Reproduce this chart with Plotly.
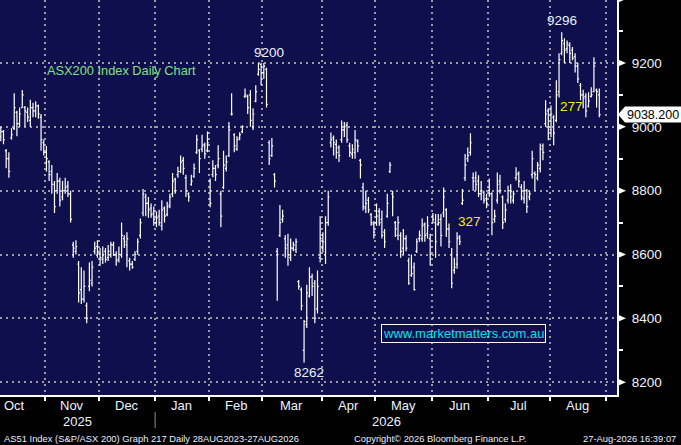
import numpy as np
import pandas as pd
import plotly.graph_objects as go

# ---------------- data ----------------
asx_holidays = ["2025-12-25", "2025-12-26", "2026-01-01", "2026-01-26",
                "2026-04-03", "2026-04-06", "2026-06-08"]
calendar_start = "2025-10-01"
calendar_end = "2026-08-31"
first_bar_date = "2025-10-09"
last_bar_date = "2026-08-27"

opens = [
    8970, 8985, 8925, 8900, 8965, 8995, 9045, 9010, 9060, 9060, 9045, 9020, 9060, 9050, 9065, 9030, 8950,
    8920, 8890, 8860, 8820, 8800, 8830, 8780, 8800, 8815, 8790, 8630, 8610, 8570, 8490, 8460, 8440, 8500, 8510, 8610, 8625,
    8600, 8585, 8610, 8590, 8600, 8630, 8600, 8585, 8600, 8650, 8630, 8580, 8570, 8585, 8610, 8660, 8730, 8780, 8760, 8745, 8730,
    8700, 8720, 8690, 8745, 8725, 8755, 8790, 8835, 8850, 8860, 8895, 8840, 8790, 8820, 8845, 8920, 8925, 8930, 8945, 8925,
    8830, 8850, 8870, 8880, 8790, 8810, 8870, 8910, 9040, 8975, 8930, 8965, 8985, 9095, 9095, 9100, 9000, 9080, 9165, 9195,
    9170, 9180, 8950, 8910, 8850, 8610, 8660, 8710, 8650, 8630, 8590, 8620, 8615, 8515, 8490, 8300, 8380, 8470, 8530, 8510, 8430, 8590,
    8620, 8600, 8700, 8950, 8965, 8945, 8935, 8960, 8990, 9005, 8940, 8915, 8920, 8955, 8895, 8810, 8745, 8770, 8725, 8695,
    8700, 8735, 8710, 8670, 8720, 8860, 8790, 8700, 8660, 8660, 8620, 8650, 8580, 8535, 8560, 8610, 8650, 8650, 8695, 8665, 8650,
    8720, 8700, 8695, 8710, 8730, 8740, 8680, 8600, 8550, 8570, 8655, 8760, 8840, 8900, 8920, 8840, 8840, 8830, 8790, 8795, 8775,
    8800, 8790, 8710, 8770, 8830, 8780, 8710, 8770, 8800, 8770, 8840, 8855, 8810, 8775, 8800, 8780, 8850, 8855, 8840, 8870, 8940, 9010, 9050,
    8990, 9030, 9020, 9110, 9230, 9260, 9245, 9255, 9240, 9220, 9190, 9130, 9100, 9095, 9065, 9095, 9110, 9115, 9100,
]
highs = [
    9000, 8990, 8930, 8920, 8995, 9105, 9050, 9060, 9115, 9065, 9060, 9085, 9075, 9080, 9070, 9040, 8960,
    8940, 8895, 8880, 8830, 8855, 8840, 8830, 8840, 8830, 8800, 8640, 8645, 8580, 8560, 8550, 8450, 8575, 8580, 8640, 8645,
    8620, 8625, 8620, 8630, 8640, 8640, 8610, 8625, 8700, 8660, 8670, 8590, 8580, 8610, 8650, 8713, 8805, 8790, 8780, 8760, 8750,
    8735, 8740, 8770, 8750, 8765, 8790, 8855, 8840, 8875, 8910, 8905, 8850, 8795, 8850, 8885, 8975, 8930, 8975, 8950, 8985,
    8838, 8895, 8880, 8942, 8800, 8925, 8910, 9015, 9105, 8980, 8970, 8983, 9005, 9120, 9100, 9115, 9058, 9130, 9200, 9200,
    9200, 9185, 8958, 8965, 8855, 8620, 8755, 8740, 8660, 8665, 8650, 8640, 8650, 8520, 8497, 8395, 8505, 8560, 8540, 8520, 8550, 8720,
    8670, 8720, 8800, 8982, 8973, 8960, 8942, 9020, 9015, 9015, 8950, 8945, 8990, 8960, 8900, 8825, 8800, 8780, 8730, 8705,
    8760, 8745, 8738, 8680, 8790, 8890, 8800, 8705, 8720, 8670, 8680, 8660, 8590, 8600, 8575, 8650, 8675, 8713, 8700, 8720, 8665,
    8730, 8727, 8727, 8727, 8810, 8745, 8697, 8620, 8590, 8670, 8660, 8805, 8915, 8935, 8980, 8857, 8860, 8848, 8830, 8800, 8790,
    8838, 8795, 8740, 8857, 8850, 8785, 8760, 8815, 8820, 8800, 8873, 8860, 8820, 8830, 8805, 8800, 8925, 8860, 8890, 8948, 8948, 9083, 9058,
    9067, 9036, 9146, 9230, 9296, 9277, 9270, 9265, 9250, 9230, 9200, 9137, 9116, 9105, 9108, 9124, 9218, 9120, 9120,
]
lows = [
    8955, 8945, 8870, 8840, 8960, 8990, 8970, 9000, 9060, 9000, 9015, 9000, 9030, 9030, 9025, 8925, 8910,
    8860, 8830, 8790, 8730, 8790, 8750, 8770, 8790, 8780, 8700, 8590, 8600, 8450, 8445, 8450, 8385, 8485, 8500, 8600, 8590,
    8565, 8570, 8575, 8580, 8590, 8595, 8565, 8575, 8590, 8620, 8560, 8550, 8555, 8580, 8600, 8650, 8720, 8720, 8715, 8715, 8690,
    8685, 8690, 8675, 8700, 8720, 8745, 8780, 8790, 8840, 8855, 8850, 8780, 8765, 8815, 8840, 8915, 8855, 8920, 8900, 8920,
    8748, 8842, 8830, 8870, 8685, 8805, 8860, 8905, 9035, 8920, 8925, 8958, 8980, 9090, 9040, 9000, 8990, 9077, 9160, 9130,
    9150, 9060, 8880, 8905, 8810, 8455, 8655, 8700, 8590, 8565, 8580, 8610, 8605, 8490, 8425, 8262, 8370, 8465, 8470, 8385, 8415, 8575,
    8607, 8570, 8690, 8935, 8910, 8900, 8890, 8950, 8968, 8950, 8905, 8900, 8900, 8920, 8838, 8738, 8730, 8730, 8690, 8650,
    8690, 8690, 8650, 8620, 8715, 8855, 8720, 8655, 8645, 8590, 8600, 8610, 8505, 8530, 8487, 8605, 8640, 8640, 8640, 8650, 8565,
    8697, 8590, 8690, 8625, 8717, 8655, 8620, 8494, 8540, 8555, 8630, 8755, 8830, 8890, 8910, 8800, 8800, 8780, 8770, 8760, 8745,
    8780, 8660, 8700, 8760, 8790, 8680, 8700, 8760, 8760, 8760, 8832, 8810, 8770, 8760, 8730, 8770, 8838, 8800, 8832, 8857, 8895, 9000, 8958,
    8967, 8942, 9014, 9092, 9224, 9200, 9230, 9200, 9208, 9170, 9137, 9083, 9058, 9030, 9060, 9092, 9108, 9060, 9030,
]
closes = [
    8985, 8960, 8900, 8860, 8975, 9060, 9010, 9040, 9100, 9050, 9030, 9060, 9050, 9065, 9040, 8960, 8920,
    8900, 8850, 8820, 8750, 8830, 8770, 8800, 8810, 8790, 8710, 8620, 8625, 8480, 8460, 8500, 8400, 8520, 8560, 8620, 8610,
    8590, 8600, 8585, 8610, 8630, 8600, 8580, 8600, 8660, 8640, 8650, 8570, 8560, 8600, 8640, 8700, 8790, 8760, 8740, 8725, 8710,
    8715, 8700, 8740, 8720, 8750, 8780, 8830, 8800, 8860, 8890, 8870, 8800, 8780, 8830, 8870, 8960, 8900, 8940, 8915, 8950,
    8760, 8870, 8850, 8900, 8720, 8880, 8890, 8990, 9040, 8940, 8960, 8975, 9000, 9100, 9060, 9020, 9040, 9110, 9180, 9170,
    9190, 9070, 8900, 8940, 8830, 8600, 8700, 8720, 8620, 8600, 8620, 8630, 8640, 8500, 8440, 8390, 8480, 8530, 8500, 8400, 8500, 8650,
    8640, 8700, 8780, 8960, 8950, 8920, 8910, 8990, 9000, 8960, 8920, 8930, 8960, 8940, 8880, 8750, 8760, 8740, 8700, 8670,
    8720, 8700, 8660, 8640, 8760, 8880, 8780, 8680, 8700, 8610, 8650, 8620, 8510, 8540, 8490, 8640, 8660, 8690, 8660, 8690, 8600,
    8710, 8640, 8700, 8660, 8780, 8680, 8640, 8510, 8560, 8650, 8640, 8770, 8880, 8910, 8950, 8830, 8820, 8790, 8800, 8770, 8760,
    8790, 8700, 8720, 8820, 8800, 8700, 8740, 8800, 8780, 8790, 8850, 8830, 8780, 8800, 8750, 8790, 8900, 8850, 8880, 8930, 8920, 9040, 9000,
    9040, 8980, 9100, 9210, 9270, 9240, 9260, 9230, 9215, 9190, 9150, 9100, 9090, 9050, 9080, 9100, 9190, 9110, 9038.2,
]

month_names = ["Oct", "Nov", "Dec", "Jan", "Feb", "Mar", "Apr", "May", "Jun", "Jul", "Aug"]
price_ticks = [8200, 8400, 8600, 8800, 9000, 9200]
annotation_texts = {"ytd_high": "9200", "year_high": "9296", "year_low": "8262",
                    "drop1": "327", "drop2": "277"}
title_text = "ASX200 Index Daily Chart"
site_text = "www.marketmatters.com.au"
footer_left = "AS51 Index (S&amp;P/ASX 200) Graph 217 Daily 28AUG2023-27AUG2026"
footer_mid = "Copyright\u00a9 2026 Bloomberg Finance L.P."
footer_right = "27-Aug-2026 16:39:07"

# ---------------- calendar / positions ----------------
cal = pd.bdate_range(calendar_start, calendar_end, freq="C", holidays=asx_holidays)
bar_dates = cal[(cal >= first_bar_date) & (cal <= last_bar_date)]
xpos = np.searchsorted(cal, bar_dates)
assert len(xpos) == len(opens) == len(highs) == len(lows) == len(closes)

month_id = cal.year * 12 + cal.month
starts = [0] + [i for i in range(1, len(cal)) if month_id[i] != month_id[i - 1]]
bounds = [s - 0.5 for s in starts] + [len(cal) - 0.5]
centers = [(bounds[k] + bounds[k + 1]) / 2 for k in range(len(starts))]
year_break = [i for i in range(1, len(cal)) if cal.year[i] != cal.year[i - 1]][0] - 0.5

XMIN, XMAX = 5.7, 235.6
YMIN, YMAX = 8160, 9397

NAVY = "#100f4d"
GRID = "#9c9c9c"
FONT = "Liberation Sans, Arial, sans-serif"

fig = go.Figure()
fig.add_trace(go.Ohlc(
    x=xpos, open=opens, high=highs, low=lows, close=closes,
    increasing=dict(line=dict(color="white", width=1.2)),
    decreasing=dict(line=dict(color="white", width=1.2)),
    tickwidth=0.5, hoverinfo="skip", showlegend=False,
))

def py(v):
    return (v - YMIN) / (YMAX - YMIN)

def px_(v):
    return (v - XMIN) / (XMAX - XMIN)

shapes = []
for t in price_ticks + [9400]:
    shapes.append(dict(type="path", xref="paper", yref="paper", xsizemode="pixel", ysizemode="pixel",
                       xanchor=1.0, yanchor=py(t), path="M1,-3.5 L9,0 L1,3.5 Z",
                       fillcolor="white", line=dict(width=0)))
last = closes[-1]
shapes.append(dict(type="path", xref="paper", yref="paper", xsizemode="pixel", ysizemode="pixel",
                   xanchor=1.0, yanchor=py(last), path="M1,0 L8,8 L64,8 L64,-8 L8,-8 Z",
                   fillcolor="white", line=dict(width=0)))
shapes.append(dict(type="line", xref="paper", yref="paper", x0=px_(year_break), x1=px_(year_break),
                   y0=-0.043, y1=-0.084, line=dict(color="#8a8a8a", width=1)))

ann = []
for name, c in zip(month_names, centers):
    ann.append(dict(x=c, y=-0.0255, xref="x", yref="paper", text=name, showarrow=False,
                    font=dict(size=13, color="#eef3ff", family=FONT), xanchor="center", yanchor="middle"))
ann.append(dict(x=(XMIN + year_break) / 2, y=-0.066, xref="x", yref="paper", text=str(cal.year[0]),
                showarrow=False, font=dict(size=13, color="#eef3ff", family=FONT), yanchor="middle"))
ann.append(dict(x=(year_break + XMAX) / 2, y=-0.066, xref="x", yref="paper", text=str(cal.year[-1]),
                showarrow=False, font=dict(size=13, color="#eef3ff", family=FONT), yanchor="middle"))
foot_font = dict(size=9.4, color="#e8eeff", family=FONT)
ann.append(dict(x=0.003, y=-0.109, xref="paper", yref="paper", text=footer_left, showarrow=False,
                xanchor="left", yanchor="middle", font=foot_font))
ann.append(dict(x=352 / 617, y=-0.109, xref="paper", yref="paper", text=footer_mid, showarrow=False,
                xanchor="left", yanchor="middle", font=foot_font))
ann.append(dict(x=678 / 617, y=-0.109, xref="paper", yref="paper", text=footer_right, showarrow=False,
                xanchor="right", yanchor="middle", font=foot_font))

hi = np.array(highs)
lo = np.array(lows)
i_feb = int(np.argmax(hi[:150]))
i_top = int(np.argmax(hi))
i_low = int(np.argmin(lo))
lab_font = dict(size=13.5, color="#e6f2ff", family=FONT)
ann.append(dict(x=xpos[i_feb], y=hi[i_feb], text=annotation_texts["ytd_high"], showarrow=False,
                xanchor="center", yanchor="bottom", xshift=11, yshift=1, font=lab_font))
ann.append(dict(x=xpos[i_top], y=hi[i_top], text=annotation_texts["year_high"], showarrow=False,
                xanchor="center", yanchor="bottom", xshift=0, yshift=2, font=lab_font))
ann.append(dict(x=xpos[i_low], y=lo[i_low], text=annotation_texts["year_low"], showarrow=False,
                xanchor="center", yanchor="top", xshift=5, yshift=-1, font=lab_font))
ann.append(dict(x=180.5, y=8703, text=annotation_texts["drop1"], showarrow=False,
                font=dict(size=13.5, color="#f2f200", family=FONT)))
ann.append(dict(x=218.5, y=9064, text=annotation_texts["drop2"], showarrow=False,
                font=dict(size=13.5, color="#f2f200", family=FONT)))
ann.append(dict(x=45 / 617, y=(395 - 71) / 395, xref="paper", yref="paper", text=title_text,
                showarrow=False, xanchor="left", yanchor="middle",
                font=dict(size=12.8, color="#80e080", family=FONT)))
ann.append(dict(x=463.5 / 617, y=(395 - 333) / 395, xref="paper", yref="paper", text=site_text,
                showarrow=False, xanchor="center", yanchor="middle", bordercolor="white", borderwidth=1,
                borderpad=1, font=dict(size=13, color="#00e0f0", family=FONT)))
ann.append(dict(x=1.0, y=py(last), xref="paper", yref="paper", text=f"{last:.3f}", showarrow=False,
                xanchor="left", yanchor="middle", xshift=8, font=dict(size=12.5, color="black", family=FONT)))

fig.update_layout(
    width=681, height=445,
    margin=dict(l=0, r=64, t=0, b=50),
    paper_bgcolor="black", plot_bgcolor=NAVY,
    showlegend=False,
    shapes=shapes, annotations=ann,
    xaxis=dict(range=[XMIN, XMAX], tickmode="array", tickvals=bounds, showticklabels=False,
               ticks="outside", ticklen=4, tickcolor="white", tickwidth=1.5,
               showgrid=True, gridcolor=GRID, griddash="2px,4px", gridwidth=2,
               showline=True, linecolor="white", linewidth=2, zeroline=False,
               rangeslider=dict(visible=False), fixedrange=True),
    yaxis=dict(side="right", range=[YMIN, YMAX], tickmode="array", tickvals=price_ticks,
               ticktext=[str(t) for t in price_ticks], ticks="", ticklabelstandoff=10,
               tickfont=dict(size=13.5, color="#eef3ff", family=FONT),
               showgrid=True, gridcolor=GRID, griddash="2px,4px", gridwidth=2,
               showline=True, linecolor="white", linewidth=2, zeroline=False, fixedrange=True,
               minor=dict(tickmode="linear", tick0=8100, dtick=200, ticks="outside", ticklen=4,
                          tickcolor="white", tickwidth=1.5, showgrid=False)),
)

fig.write_html("out.html", config={"displayModeBar": False},
               post_script="document.body.style.margin='0px';document.body.style.overflow='hidden';")
